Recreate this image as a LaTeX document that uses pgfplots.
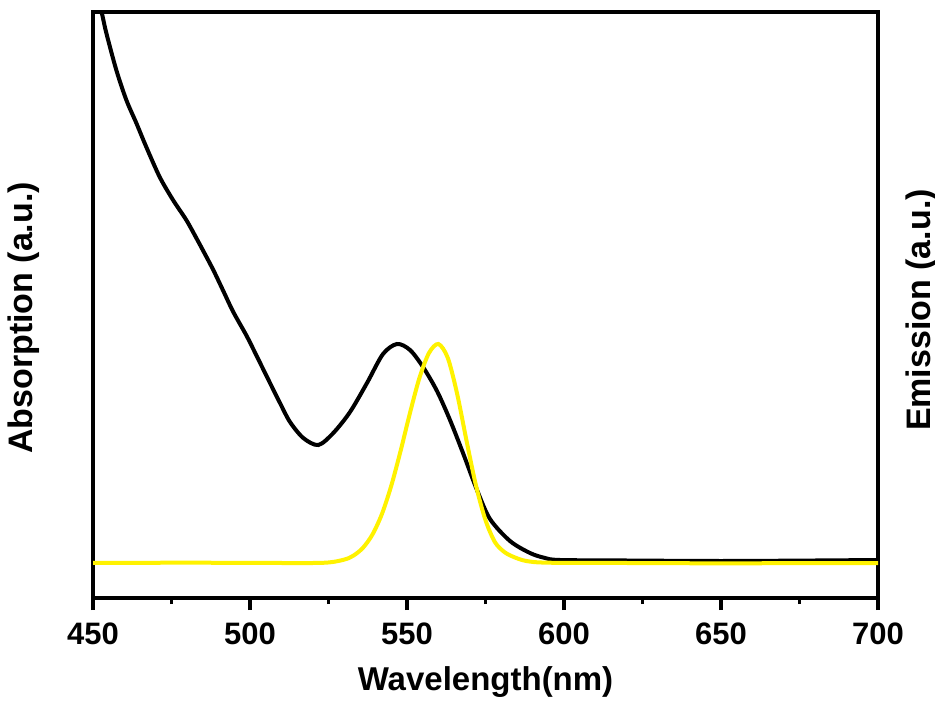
\documentclass[border=0pt]{standalone}
\usepackage{pgfplots}
\pgfplotsset{compat=1.18}
\usepackage{fontspec}
\setmainfont{Liberation Sans}

\pgfplotstableread{
wl      a
452.6   586
452.96  583
454.24  565
457.42  528
460.61  498
463.79  475
466.97  451
471.24  421
475.48  398
479.71  378
482.90  360
485.13  347
488.31  328
491.50  307
494.68  286
498.95  262
502.13  242
506.37  215
509.55  195
512.74  176
516.97  160
521.75  153
526.53  165
531.85  186
537.26  215
542.36  244
546.82  254
550.96  248
555.10  231
559.55  207
563.69  178
567.83  145
572.29  108
576.43  79
582.80  57
589.17  45
593.95  40
598.73  38
620     37.5
650     37
680     37.5
700     38
}\absorb

\pgfplotstableread{
wl      e
450     35
480     35.3
510     35
524     35.3
530     38.4
533     42.5
536     50.3
539     63.5
542     83.9
545     112.4
548     147.6
551     185.7
554     220.5
557     245
560     254
563     240
566     203.7
569     156.6
572     112
575     77.8
578     55.9
581     46
584     41
588     37
595     35.3
620     35
650     34.7
700     35
}\emis

\begin{document}
\begin{tikzpicture}
\useasboundingbox (-46.5pt,-51pt) rectangle (421pt,299pt);
\begin{axis}[
    at={(0,0)}, anchor=south west,
    scale only axis,
    width=392.5pt, height=293pt,
    xmin=450, xmax=700,
    ymin=0, ymax=586,
    xtick={450,500,...,700},
    minor xtick={475,525,...,675},
    xtick pos=bottom,
    tick align=outside,
    major tick length=6pt,
    minor tick length=3pt,
    every tick/.style={line width=1.6pt, black},
    ytick=\empty,
    axis line style={line width=2pt},
    /pgf/number format/assume math mode=true,
    /pgf/number format/1000 sep={},
    ticklabel style={font=\fontsize{15.5}{18}\selectfont\bfseries},
    xticklabel style={yshift=-3pt},
    xlabel={Wavelength(nm)},
    xlabel style={font=\fontsize{16.5}{19}\selectfont\bfseries, yshift=-4pt},
    ylabel={Absorption (a.u.)},
    ylabel style={font=\fontsize{17}{20}\selectfont\bfseries, yshift=17pt, xshift=-6.5pt},
]
\addplot[black, line width=2pt, smooth] table[x=wl, y=a] {\absorb};
\end{axis}
\begin{axis}[
    at={(0,0)}, anchor=south west,
    scale only axis,
    width=392.5pt, height=293pt,
    xmin=450, xmax=700,
    ymin=0, ymax=586,
    axis x line=none,
    axis y line*=right,
    ytick=\empty,
    axis line style={line width=2pt},
    ylabel={Emission (a.u.)},
    ylabel style={font=\fontsize{17}{20}\selectfont\bfseries, yshift=-10.5pt, xshift=-2.5pt},
]
\addplot[yellow, line width=2pt, smooth] table[x=wl, y=e] {\emis};
\end{axis}
\end{tikzpicture}
\end{document}
